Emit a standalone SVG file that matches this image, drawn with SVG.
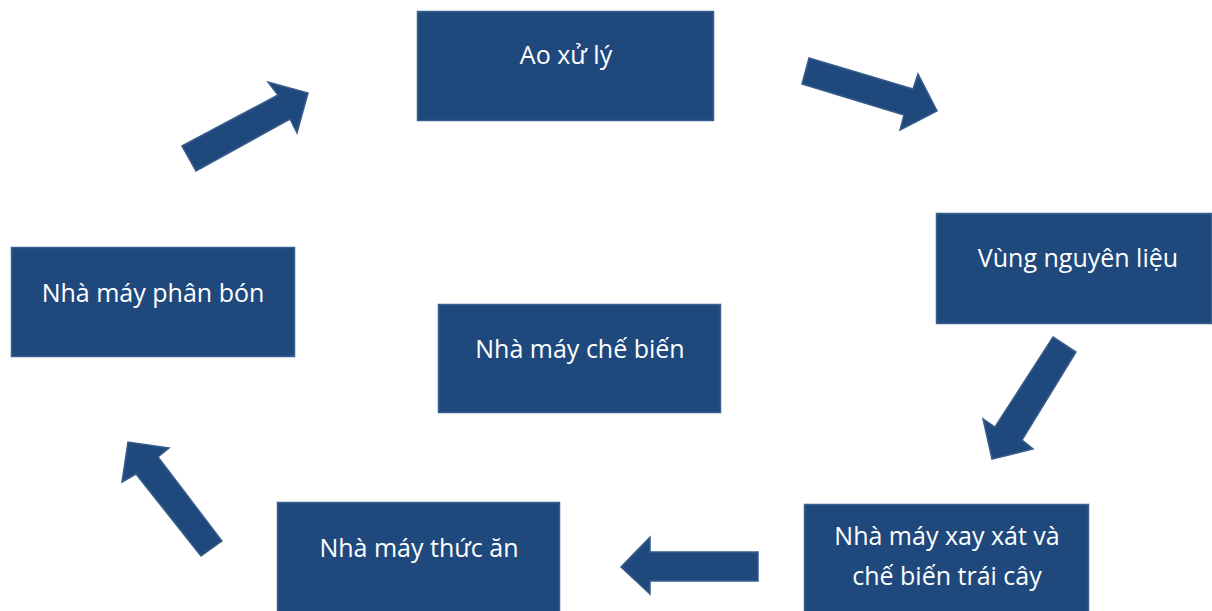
<svg xmlns="http://www.w3.org/2000/svg" width="1212" height="611" viewBox="0 0 1212 611">
<style>
.box{fill:#1f497d;stroke:#3a5f91;stroke-width:1.5}
.arr{fill:#1f497d;stroke:#385d8a;stroke-width:1.5;stroke-linejoin:miter}
.t{font-family:"Open Sans","Noto Sans",sans-serif;font-size:25px;fill:#ffffff;text-anchor:middle}
</style>
<rect width="1212" height="611" fill="#ffffff"/>
<g id="n1"><rect class="box" x="417.5" y="11.5" width="296" height="109"/><text class="t" x="566" y="64">Ao xử lý</text></g>
<g id="n2"><rect class="box" x="936.5" y="213.5" width="275" height="110"/><text class="t" x="1078" y="267">Vùng nguyên liệu</text></g>
<g id="n3"><rect class="box" x="11.5" y="247.5" width="283" height="109"/><text class="t" x="153" y="302">Nhà máy phân bón</text></g>
<g id="n4"><rect class="box" x="438.5" y="304.5" width="282" height="108"/><text class="t" x="580" y="358">Nhà máy chế biến</text></g>
<g id="n5"><rect class="box" x="277.5" y="502.5" width="282" height="110"/><text class="t" x="419" y="557">Nhà máy thức ăn</text></g>
<g id="n6"><rect class="box" x="804.5" y="504.5" width="284" height="108"/><text class="t" x="947" y="545">Nhà máy xay xát và</text><text class="t" x="947" y="585">chế biến trái cây</text></g>
<g id="connectors">
<polygon class="arr" points="182,146 278,95 268,82 308,93 297,133 290,119 196,171"/>
<polygon class="arr" points="809,58 913,89 918,74 937,111 900,130 904,115 802,84"/>
<polygon class="arr" points="1053,337 1076,352 1022,440 1033,449 992,459 983,419 995,427"/>
<polygon class="arr" points="758,552 758,581 650,581 650,594 621,567 650,537 650,552"/>
<polygon class="arr" points="222,541 201,556 136,474 122,482 128,442 169,448 158,457"/>
</g>
</svg>
